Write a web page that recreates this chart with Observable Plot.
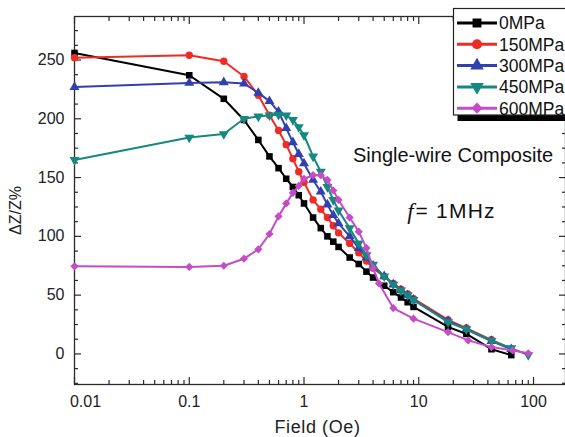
<!DOCTYPE html>
<html><head><meta charset="utf-8">
<script src="https://cdn.jsdelivr.net/npm/d3@7"></script>
<script src="https://cdn.jsdelivr.net/npm/@observablehq/plot@0.6"></script>
<style>
body{margin:0;background:#fff;}
#chart{position:relative;width:565px;height:437px;overflow:hidden;font-family:"Liberation Sans",Arial,sans-serif;background:#fff;}
#chart svg{overflow:visible;}
#legend{position:absolute;left:0;top:0;}
</style></head><body><div id="chart"></div>
<script>
// ---- data ----
const seriesNames = ["0MPa","150MPa","300MPa","450MPa","600MPa"];
const seriesColors = ["#000000","#ee2b25","#3140ae","#15887f","#c44cc6"];

const field0 = [0.01,0.1,0.2,0.3,0.4,0.5,0.6,0.7,0.8,0.9,1.0,1.2,1.4,1.6,1.8,2.0,2.5,3,3.5,4,5,6,7,8,9,18,26,43,64];
const dz0    = [256,237,217,199,182,168,158,149,142,135,128,116,107,100,95.5,91,82,76.5,70,65,58,52.5,48,44,40,23,17,4,-1];

const field150 = [0.01,0.1,0.2,0.3,0.4,0.5,0.6,0.7,0.8,0.9,1.0,1.2,1.4,1.6,1.8,2.0,2.5,3,3.5,4,5,6,7,8,9,18,26,43,64];
const dz150    = [252,254,249,236,220,203,190,178,166,155,146,131,123,116,109,103,94,86,79,73,66,60,55,51,47,29,22,12,4.5];

const field300 = [0.01,0.1,0.2,0.3,0.4,0.5,0.6,0.7,0.8,0.9,1.0,1.2,1.4,1.6,1.8,2.0,2.5,3,3.5,4,5,6,7,8,9,18,26,43,64];
const dz300    = [227,230.5,231,230,222,215,206,192,180,170,162,148,138,127,118,111,100,90,82,75,66,59,54,50,46,28,21,11,4];

const field450 = [0.01,0.1,0.2,0.3,0.4,0.5,0.6,0.7,0.8,0.9,1.0,1.2,1.4,1.6,1.8,2.0,2.5,3,3.5,4,5,6,7,8,9,18,26,43,64,90];
const dz450    = [165,184,187,200,202,203,203.5,203,199,193,186,168,155,142,131,122,107,94,84,76,66,59,54,50,46,27,21,11,5,-1];

const field600 = [0.01,0.1,0.2,0.3,0.4,0.5,0.6,0.7,0.8,0.9,1.0,1.2,1.4,1.6,1.8,2.0,2.5,3,3.5,4,4.5,6,9,18,27,43,66,90];
const dz600    = [74.5,74,75,81,89,102,117,128,137,143,149,152,152,148,139,131,116,104,90,73,60,39,30,18.6,11.5,5.8,3,0.5];

const xMajor = [0.01,0.1,1,10,100];
const xMinor = [0.02,0.03,0.04,0.05,0.06,0.07,0.08,0.09,0.2,0.3,0.4,0.5,0.6,0.7,0.8,0.9,2,3,4,5,6,7,8,9,20,30,40,50,60,70,80,90];
const yMajor = [0,50,100,150,200,250];
const yMinor = [-25,-12.5,12.5,25,37.5,62.5,75,87.5,112.5,125,137.5,162.5,175,187.5,212.5,225,237.5,262.5,275];

const annotations = [{t:"Single-wire Composite", x:19.9, y:168.3}];
const freqNote = {f:"f", rest:"= 1MHz", x:9.2, y:121.3};

// ---- symbols ----
const triangleDown = {
  draw(context, size) {
    const s3 = Math.sqrt(3);
    const y = -Math.sqrt(size / (s3 * 3));
    context.moveTo(0, -y * 2);
    context.lineTo(-s3 * y, y);
    context.lineTo(s3 * y, y);
    context.closePath();
  }
};
const plotSymbols = ["square","circle","triangle",triangleDown,"diamond2"];
const d3Symbols = [d3.symbolSquare, d3.symbolCircle, d3.symbolTriangle, triangleDown, d3.symbolDiamond2];

const fields = [field0, field150, field300, field450, field600];
const values = [dz0, dz150, dz300, dz450, dz600];
const series = seriesNames.map((name, i) => fields[i].map((f, j) => ({name, field: f, dz: values[i][j]})));

const axisColor = "#2a2a2a";
const seriesMarks = series.flatMap((data, i) => [
  Plot.line(data, {x: "field", y: "dz", stroke: seriesColors[i], strokeWidth: 2}),
  Plot.dot(data, {x: "field", y: "dz", symbol: plotSymbols[i], fill: seriesColors[i], r: 3.7})
]);

const chart = Plot.plot({
  width: 565, height: 437,
  marginLeft: 74, marginRight: 0, marginTop: 16, marginBottom: 53,
  style: {fontFamily: "'Liberation Sans', Arial, sans-serif", fontSize: "16px", color: "#222", background: "white", overflow: "visible"},
  x: {type: "log", domain: [0.01, 190]},
  y: {domain: [-26, 287]},
  marks: [
    Plot.frame({stroke: axisColor, strokeWidth: 1.3}),
    // bottom axis
    Plot.axisX(xMajor.slice(1), {anchor: "bottom", tickSize: 0, tickPadding: 11, label: null, tickFormat: d => String(d)}),
    Plot.axisX([xMajor[0]], {anchor: "bottom", tickSize: 0, tickPadding: 11, dx: 11, label: null, tickFormat: d => String(d)}),
    Plot.axisX(xMajor, {anchor: "bottom", tickSize: -7, fill: "none", stroke: axisColor, strokeWidth: 1.2}),
    Plot.axisX(xMinor, {anchor: "bottom", tickSize: -4, fill: "none", stroke: axisColor, strokeWidth: 1.2}),
    // top axis
    Plot.axisX(xMajor, {anchor: "top", tickSize: -7, fill: "none", stroke: axisColor, strokeWidth: 1.2}),
    Plot.axisX(xMinor, {anchor: "top", tickSize: -4, fill: "none", stroke: axisColor, strokeWidth: 1.2}),
    // left axis
    Plot.axisY(yMajor, {anchor: "left", tickSize: 0, tickPadding: 10, label: null}),
    Plot.axisY(yMajor, {anchor: "left", tickSize: -7, fill: "none", stroke: axisColor, strokeWidth: 1.2}),
    Plot.axisY(yMinor, {anchor: "left", tickSize: -4, fill: "none", stroke: axisColor, strokeWidth: 1.2}),
    // right axis
    Plot.axisY(yMajor, {anchor: "right", tickSize: -7, fill: "none", stroke: axisColor, strokeWidth: 1.2}),
    Plot.axisY(yMinor, {anchor: "right", tickSize: -4, fill: "none", stroke: axisColor, strokeWidth: 1.2}),
    // axis titles
    Plot.text(["Field (Oe)"], {frameAnchor: "bottom", lineAnchor: "middle", textAnchor: "middle", dy: 42.5, dx: -2.5, fontSize: 18, fill: "#222"}),
    Plot.text(["ΔZ/Z%"], {frameAnchor: "left", textAnchor: "middle", lineAnchor: "middle", rotate: -90, dx: -59, dy: 10, fontSize: 16, fill: "#222"}),
    // annotations
    Plot.text(annotations, {x: "x", y: "y", text: "t", fontSize: 20, fill: "#111"}),
    Plot.text([freqNote], {x: "x", y: "y", text: "f", textAnchor: "end", dx: -1, fontSize: 23, fontStyle: "italic", fontFamily: "'Liberation Serif', serif", fill: "#111"}),
    Plot.text([freqNote], {x: "x", y: "y", text: "rest", textAnchor: "start", dx: 1, fontSize: 21, fill: "#111"}),
    ...seriesMarks
  ]
});

d3.select(chart).selectAll("text").filter(function() { return this.textContent === freqNote.rest; }).attr("letter-spacing", 1.2);
d3.select(chart).selectAll("text").filter(function() { return this.textContent === "Field (Oe)"; }).attr("letter-spacing", 0.6);

const host = document.getElementById("chart");
host.appendChild(chart);

// ---- legend overlay ----
const lg = d3.select(host).append("svg").attr("id", "legend").attr("width", 565).attr("height", 437);
const bx = 453.5, by = 8.5, bw = 130, bh = 106.5;
lg.append("rect").attr("x", bx + 4).attr("y", by + bh).attr("width", bw).attr("height", 6).attr("fill", "#000");
lg.append("rect").attr("x", bx).attr("y", by).attr("width", bw).attr("height", bh).attr("fill", "#fff").attr("stroke", "#222").attr("stroke-width", 1.2);
seriesNames.forEach((name, i) => {
  const yy = 23 + i * 21.3;
  const g = lg.append("g");
  g.append("line").attr("x1", 457).attr("x2", 497).attr("y1", yy).attr("y2", yy).attr("stroke", seriesColors[i]).attr("stroke-width", 3);
  g.append("path").attr("transform", `translate(477,${yy})`).attr("d", d3.symbol(d3Symbols[i], 80)()).attr("fill", seriesColors[i]);
  g.append("text").attr("x", 499).attr("y", yy).attr("dy", "0.36em").attr("font-size", 17.5).attr("fill", "#111")
    .attr("font-family", "'Liberation Sans', Arial, sans-serif").text(name);
});
</script>
</body></html>
